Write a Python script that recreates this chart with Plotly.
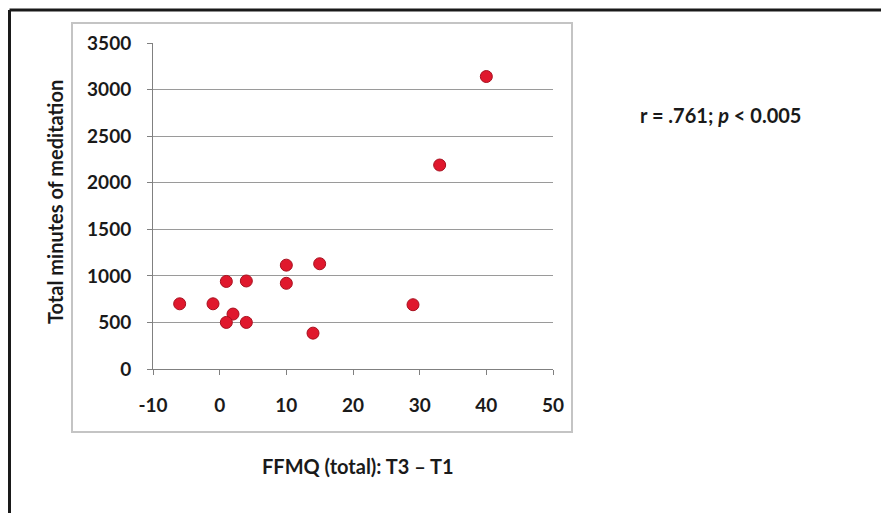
import plotly.graph_objects as go

ffmq_change = [-6, -1, 1, 4, 2, 1, 4, 10, 10, 15, 14, 29, 33, 40]
minutes = [700, 700, 940, 945, 590, 500, 500, 1115, 920, 1130, 385, 690, 2190, 3140]

x_ticks = [-10, 0, 10, 20, 30, 40, 50]
y_ticks = [0, 500, 1000, 1500, 2000, 2500, 3000, 3500]

OFF = 8  # page body margin
W, H = 889 - OFF, 513 - OFF
# plot area in page pixels
L, R, T, B = 153, 553, 43, 369

def px(x):
    return (x - L) / (R - L)

def py(y):
    return (B - y) / (B - T)

FONT = "Lato"
TXT = "#1a1a1a"

fig = go.Figure()
fig.add_trace(go.Scatter(
    x=ffmq_change, y=minutes, mode="markers",
    marker=dict(size=12, color="#e0182d", line=dict(color="#a8101f", width=1)),
    showlegend=False, hoverinfo="x+y",
))

fig.update_layout(
    width=W, height=H,
    margin=dict(l=L - OFF, r=W - (R - OFF), t=T - OFF, b=H - (B - OFF), pad=0),
    paper_bgcolor="white", plot_bgcolor="white",
    font=dict(family=FONT, color=TXT),
    xaxis=dict(
        range=[-10, 50], tickvals=x_ticks, ticktext=[str(v) for v in x_ticks],
        showgrid=False, zeroline=False, showline=True, linecolor="#808080", linewidth=1,
        ticks="outside", ticklen=5, tickcolor="#808080",
        tickfont=dict(family=FONT, size=19, color=TXT, weight="bold"),
        ticklabelstandoff=14, fixedrange=True,
    ),
    yaxis=dict(
        range=[0, 3500], tickvals=y_ticks, ticktext=[str(v) for v in y_ticks],
        showgrid=True, gridcolor="#9a9a9a", gridwidth=1, zeroline=False,
        showline=True, linecolor="#808080", linewidth=1,
        ticks="outside", ticklen=5, tickcolor="#808080",
        tickfont=dict(family=FONT, size=19, color=TXT, weight="bold"),
        ticklabelstandoff=12, fixedrange=True,
    ),
    shapes=[
        dict(type="rect", xref="paper", yref="paper",
             x0=px(72), x1=px(572), y0=py(432), y1=py(23),
             line=dict(color="#c4c4c4", width=2), layer="below"),
        dict(type="line", xref="paper", yref="paper",
             x0=px(OFF + 1.5), x1=px(900), y0=py(10), y1=py(10),
             line=dict(color=TXT, width=3)),
        dict(type="line", xref="paper", yref="paper",
             x0=px(OFF + 1.5), x1=px(OFF + 1.5), y0=py(10), y1=py(520),
             line=dict(color=TXT, width=3)),
    ],
    annotations=[
        dict(text="Total minutes of meditation", xref="paper", yref="paper",
             x=px(55), y=py(202), textangle=-90, showarrow=False,
             xanchor="center", yanchor="middle",
             font=dict(family=FONT, size=20, color=TXT, weight="bold")),
        dict(text="FFMQ (total): T3 \u2013 T1", xref="paper", yref="paper",
             x=px(358), y=py(466), showarrow=False,
             xanchor="center", yanchor="middle",
             font=dict(family=FONT, size=20, color=TXT, weight="bold")),
        dict(text="r = .761; <i>p</i> < 0.005", xref="paper", yref="paper",
             x=px(638), y=py(115), showarrow=False,
             xanchor="left", yanchor="middle",
             font=dict(family=FONT, size=20, color=TXT, weight="bold")),
    ],
)

fig.write_html("out.html")
